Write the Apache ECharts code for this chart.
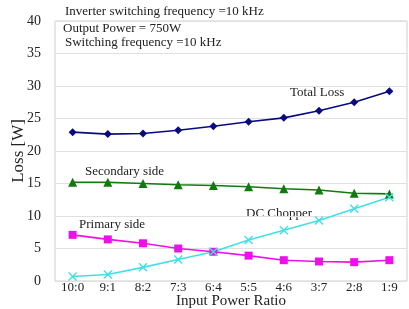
<!DOCTYPE html>
<html>
<head>
<meta charset="utf-8">
<script src="https://cdn.jsdelivr.net/npm/echarts@6/dist/echarts.min.js"></script>
<style>
  html, body { margin: 0; padding: 0; background: #fff; }
  #chart { width: 409px; height: 309px; }
</style>
</head>
<body>
<div id="chart"></div>
<script>
const ratios = ["10:0", "9:1", "8:2", "7:3", "6:4", "5:5", "4:6", "3:7", "2:8", "1:9"];
// losses in W
const totalLoss = [22.9, 22.6, 22.7, 23.2, 23.8, 24.5, 25.1, 26.2, 27.5, 29.2];
const secondarySide = [15.2, 15.2, 15.0, 14.8, 14.7, 14.5, 14.2, 14.0, 13.5, 13.4];
const primarySide = [7.1, 6.4, 5.8, 5.0, 4.5, 3.9, 3.2, 3.0, 2.9, 3.2];
const dcChopper = [0.7, 1.0, 2.1, 3.3, 4.5, 6.3, 7.8, 9.3, 11.1, 12.9];
const yTicks = [0, 5, 10, 15, 20, 25, 30, 35, 40];

const font = "'Liberation Serif', 'DejaVu Serif', serif";

function lineSeries(name, data, color, symbol, size) {
  return {
    name: name,
    type: "line",
    data: data,
    symbol: symbol,
    symbolSize: size,
    lineStyle: { color: color, width: 1.6 },
    itemStyle: { color: color },
    animation: false
  };
}

const chart = echarts.init(document.getElementById("chart"));
chart.setOption({
  textStyle: { fontFamily: font },
  grid: {
    left: 55, right: 2, top: 21, bottom: 28,
    outerBoundsMode: "none", containLabel: false,
    show: true, borderColor: "#d0d0d0", borderWidth: 1
  },
  xAxis: {
    type: "category",
    data: ratios,
    boundaryGap: true,
    axisLine: { show: false },
    axisTick: { show: false },
    axisLabel: { color: "#222", fontSize: 13, fontFamily: font, margin: 0 },
    name: "Input Power Ratio",
    nameLocation: "middle",
    nameMoveOverlap: false,
    nameGap: 13,
    nameTextStyle: { color: "#222", fontSize: 15, fontFamily: font }
  },
  yAxis: {
    type: "value",
    min: yTicks[0],
    max: yTicks[yTicks.length - 1],
    interval: 5,
    axisLine: { show: false },
    axisTick: { show: false },
    splitLine: { lineStyle: { color: "#e0e0e0", width: 1.2 } },
    axisLabel: { color: "#222", fontSize: 14, fontFamily: font, margin: 14 },
    name: "Loss [W]",
    nameLocation: "middle",
    nameMoveOverlap: false,
    nameGap: 28,
    nameTextStyle: { color: "#222", fontSize: 17, fontFamily: font }
  },
  series: [
    lineSeries("Total Loss", totalLoss, "#0a0a80", "diamond", 8),
    lineSeries("Secondary side", secondarySide, "#107a10", "triangle", 9),
    lineSeries("Primary side", primarySide, "#ee10e8", "rect", 8),
    {
      name: "DC Chopper",
      type: "line",
      data: dcChopper,
      symbol: "path://M0,0L10,10M10,0L0,10",
      symbolSize: 8,
      lineStyle: { color: "#40e0e6", width: 1.6 },
      itemStyle: { color: "none", borderColor: "#40e0e6", borderWidth: 1.4 },
      animation: false
    }
  ],
  graphic: [
    { type: "text", left: 65, top: 5, style: { text: "Inverter switching frequency =10 kHz", font: "13px " + font, fill: "#222" } },
    { type: "text", left: 63, top: 22, style: { text: "Output Power = 750W", font: "13px " + font, fill: "#222" } },
    { type: "text", left: 65, top: 36, style: { text: "Switching frequency =10 kHz", font: "13px " + font, fill: "#222" } },
    { type: "text", left: 290, top: 86, style: { text: "Total Loss", font: "13px " + font, fill: "#222" } },
    { type: "text", left: 85, top: 165, style: { text: "Secondary side", font: "13px " + font, fill: "#222" } },
    { type: "text", left: 79, top: 218, style: { text: "Primary side", font: "13px " + font, fill: "#222" } },
    { type: "text", left: 246, top: 207, style: { text: "DC Chopper", font: "13px " + font, fill: "#222" } }
  ]
});
</script>
</body>
</html>
